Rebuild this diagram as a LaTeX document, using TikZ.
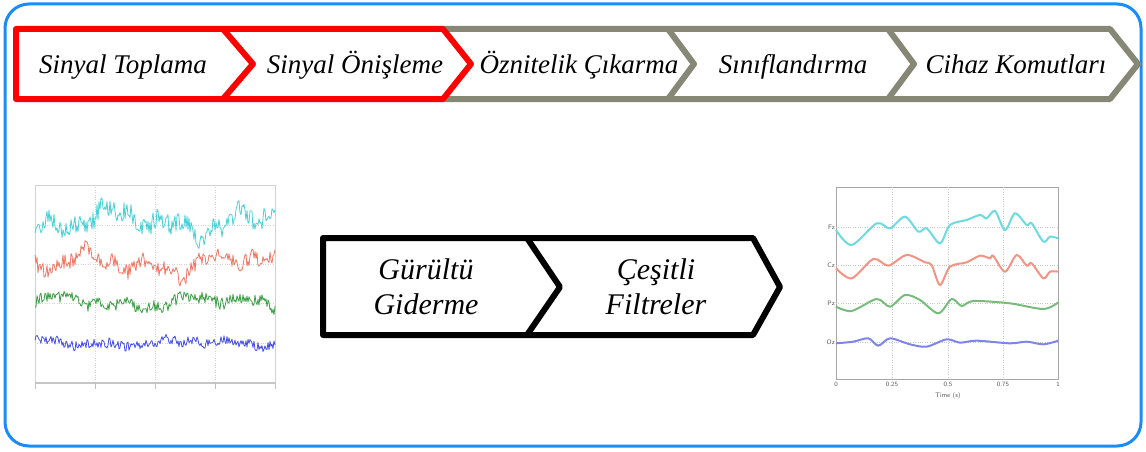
\documentclass[tikz,border=0pt]{standalone}
\usepackage{fontspec}
\setmainfont{Liberation Serif}
\usepackage{tikz}
\usetikzlibrary{arrows.meta,positioning}
\usepackage{xcolor}

\definecolor{framblue}{RGB}{25,140,250}
\definecolor{stepgray}{RGB}{135,135,118}
\definecolor{eegcyan}{RGB}{70,210,215}
\definecolor{eegred}{RGB}{240,120,100}
\definecolor{eeggreen}{RGB}{60,160,70}
\definecolor{eegblue}{RGB}{70,80,230}

\tikzset{
    steptext/.style={font=\fontsize{27}{30}\selectfont\itshape, anchor=base, inner sep=0pt},
    filttext/.style={font=\fontsize{30}{33}\selectfont\itshape, anchor=base, inner sep=0pt},
    ticktext/.style={font=\sffamily\fontsize{6.5}{8}\selectfont, gray!70!black, inner sep=1pt}
}

\begin{document}
\begin{tikzpicture}[x=1pt,y=-1pt]
    \useasboundingbox (0,0) rectangle (1146,452);

    % Outer frame
    \draw[framblue,line width=3pt,rounded corners=24pt] (5,4) rectangle (1141,446);

    % Process steps (gray part first, red part on top)
    \draw[stepgray,line width=6pt,line join=round]
        (443,29) -- (1110,29) -- (1138,64) -- (1110,99) -- (443,99);
    \foreach \bx in {668,888} {
        \draw[stepgray,line width=6pt,line join=round] (\bx,29) -- (\bx+26,64) -- (\bx,99);
    }
    \draw[red,line width=6pt,line join=round]
        (16,29) -- (443,29) -- (471,64) -- (443,99) -- (16,99) -- cycle;
    \draw[red,line width=6pt,line join=round] (223,29) -- (253,64) -- (223,99);

    \node[steptext] (toplama) at (123,74) {Sinyal Toplama};
    \node[steptext] (onisleme) at (355,74) {Sinyal Önişleme};
    \node[steptext] (oznitelik) at (579,74) {Öznitelik Çıkarma};
    \node[steptext] (sinif) at (793,74) {Sınıflandırma};
    \node[steptext] (komut) at (1016,74) {Cihaz Komutları};

    % Raw signals (left)
    \draw[gray!35,line width=1pt] (35,185) rectangle (275,382);
    \foreach \gx in {95,155,215} {
        \draw[gray!35,dotted] (\gx,185) -- (\gx,382);
    }
    \foreach \gy in {225,264,303,343} {
        \draw[gray!35,dotted] (35,\gy) -- (275,\gy);
    }
    \draw[gray!45,line width=2pt] (35,383) -- (275,383);
    \foreach \gx in {35,95,155,215,275} {
        \draw[gray!50] (\gx,383) -- (\gx,389);
    }
    \pgfmathsetseed{11}
    \foreach \base/\amp/\nz/\ph/\col in {222/8/10/0/eegcyan, 264/7/8/70/eegred, 302/4/6/140/eeggreen, 343/2/5/200/eegblue} {
        \draw[\col,line width=0.8pt,line join=round]
            plot[domain=35:275,samples=241]
            (\x,{\base+\amp*(sin(2.3*\x+\ph)+0.8*sin(5.7*\x+2*\ph)+0.6*sin(13.1*\x+3*\ph))+\nz*rand});
    }

    % Filter steps (middle)
    \draw[black,line width=6pt,line join=round]
        (323,238) -- (753,238) -- (780,287) -- (753,335) -- (323,335) -- cycle;
    \draw[black,line width=6pt,line join=round] (527,238) -- (560,287) -- (527,335);
    \node[filttext] (gurultu) at (426,279) {Gürültü};
    \node[filttext] (giderme) at (426,314) {Giderme};
    \node[filttext] (cesitli) at (656,279) {Çeşitli};
    \node[filttext] (filtre) at (656,314) {Filtreler};

    % Filtered signals (right)
    \draw[gray!70,line width=1pt] (836,187) rectangle (1058,379);
    \foreach \gx in {892,948,1003} {
        \draw[gray!45,dotted] (\gx,187) -- (\gx,379);
    }
    \foreach \gy/\lab in {227/Fz,265/Cz,303/Pz,342/Oz} {
        \draw[gray!45,dotted] (836,\gy) -- (1058,\gy);
        \node[ticktext,anchor=east] (ch\lab) at (836,\gy) {\lab};
    }
    \foreach \gx/\lab [count=\i] in {836/0,892/0.25,948/0.5,1003/0.75,1058/1} {
        \node[ticktext,anchor=north] (tk\i) at (\gx,381) {\lab};
    }
    \node[ticktext,anchor=north] (timelab) at (948,391) {Time (s)};

    \begin{scope}[shift={(810,175)},scale=1/3]
        \draw[eegcyan!80,line width=2pt] plot[smooth] coordinates {
            (78,165) (125,210) (200,145) (240,160) (285,125) (325,170) (350,160)
            (390,205) (420,150) (470,135) (510,120) (530,130) (555,108) (585,165)
            (615,115) (650,150) (665,145) (700,200) (720,185) (745,190)};
        \draw[eegred!80,line width=2pt] plot[smooth] coordinates {
            (78,280) (125,310) (190,252) (235,272) (290,240) (345,262) (365,270)
            (390,330) (420,275) (470,262) (510,242) (540,250) (550,243) (585,290)
            (620,240) (650,272) (665,265) (700,310) (720,290) (745,290)};
        \draw[eeggreen!70,line width=2pt] plot[smooth] coordinates {
            (78,395) (125,408) (200,372) (240,395) (285,360) (330,375) (385,415)
            (425,372) (455,393) (490,378) (600,385) (700,402) (745,382)};
        \draw[eegblue!70,line width=2pt] plot[smooth] coordinates {
            (78,505) (130,500) (175,490) (205,512) (240,490) (300,508) (350,515)
            (410,493) (450,503) (500,497) (600,505) (650,500) (700,508) (745,497)};
    \end{scope}
\end{tikzpicture}
\end{document}
